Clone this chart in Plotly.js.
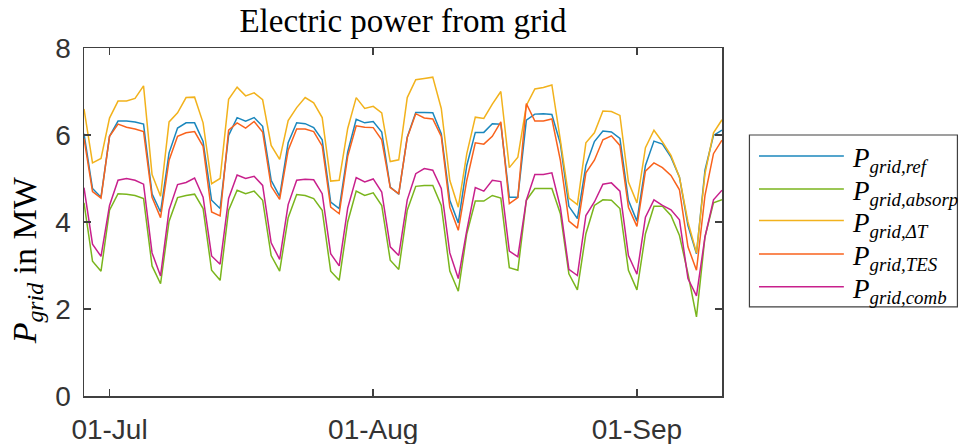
<!DOCTYPE html>
<html><head><meta charset="utf-8">
<script src="https://cdn.plot.ly/plotly-3.0.1.min.js"></script>
<style>body{margin:0;background:#fff}#chart{width:962px;height:444px}</style>
</head><body><div id="chart"></div>
<script>
// daily values, 28-Jun .. 11-Sep
const startDate = '2015-06-28';
const nDays = 76;
const tickVals = ['2015-07-01', '2015-08-01', '2015-09-01'];
const tickText = ['01-Jul', '01-Aug', '01-Sep'];

const pRef = [6.03,4.77,4.57,5.97,6.32,6.32,6.30,6.25,4.65,4.23,5.59,6.16,6.28,6.28,5.85,4.50,4.31,5.99,6.40,6.32,6.40,6.20,4.96,4.59,5.82,6.28,6.26,6.17,5.89,4.46,4.31,5.61,6.36,6.28,6.31,6.07,4.80,4.64,5.95,6.52,6.52,6.51,6.03,4.50,3.98,5.30,6.06,6.06,6.26,6.25,4.57,4.57,6.34,6.48,6.49,6.47,5.80,4.36,4.08,5.30,5.85,6.09,6.07,5.92,4.50,4.02,5.30,5.86,5.79,5.49,5.03,3.92,3.27,5.19,5.99,6.11];
const pAbsorp = [4.44,3.10,2.87,4.27,4.65,4.64,4.61,4.54,2.99,2.58,4.02,4.56,4.61,4.64,4.31,2.89,2.66,4.27,4.73,4.65,4.71,4.50,3.23,2.87,4.10,4.63,4.61,4.54,4.27,2.87,2.66,4.00,4.71,4.61,4.67,4.38,3.12,2.91,4.27,4.82,4.84,4.84,4.38,2.87,2.41,3.73,4.48,4.48,4.61,4.55,2.95,2.89,4.50,4.77,4.77,4.77,4.19,2.81,2.44,3.73,4.38,4.51,4.50,4.31,2.89,2.44,3.73,4.36,4.36,4.15,3.69,2.81,1.82,3.66,4.44,4.51];
const pDeltaT = [6.60,5.36,5.46,6.39,6.78,6.78,6.84,7.13,5.09,4.59,6.30,6.51,6.86,6.87,6.28,4.88,5.00,6.82,7.10,6.90,6.97,6.81,5.76,5.44,6.33,6.63,6.86,6.74,6.40,4.94,4.96,6.15,6.86,6.61,6.66,6.51,5.39,5.43,6.86,7.27,7.30,7.33,6.61,4.96,4.34,5.57,6.41,6.38,6.71,7.00,5.25,5.49,6.68,7.06,7.09,7.15,5.88,4.55,4.40,5.82,6.05,6.55,6.54,6.45,4.92,4.44,5.71,6.11,5.84,5.53,5.03,4.00,3.29,5.11,6.05,6.35];
const pTES = [5.92,4.70,4.55,5.97,6.25,6.18,6.14,6.08,4.57,4.10,5.42,5.97,6.05,6.08,5.74,4.23,4.14,6.11,6.28,6.16,6.31,6.07,4.82,4.52,5.65,6.14,6.14,6.08,5.75,4.34,4.19,5.51,6.21,6.18,6.17,5.89,4.79,4.65,5.94,6.49,6.39,6.37,5.97,4.34,3.81,4.96,5.82,5.79,5.97,6.30,4.42,4.56,6.72,6.32,6.32,6.37,5.42,4.02,3.86,5.13,5.42,5.89,5.98,5.76,4.34,3.90,5.17,5.36,5.25,5.07,4.74,3.43,2.89,4.61,5.57,5.88];
const pComb = [4.79,3.49,3.21,4.38,4.96,5.00,4.96,4.87,3.29,2.76,4.28,4.86,4.91,5.01,4.57,3.22,3.03,4.54,5.08,5.00,5.05,4.84,3.52,3.14,4.40,4.96,4.98,4.97,4.65,3.27,2.99,4.32,5.02,4.92,4.99,4.69,3.43,3.23,4.51,5.11,5.23,5.19,4.77,3.29,2.70,3.81,4.79,4.71,4.96,4.93,3.33,3.20,4.50,5.09,5.09,5.13,4.34,2.91,2.77,4.15,4.46,4.87,4.90,4.71,3.23,2.80,4.11,4.51,4.38,4.28,4.05,2.70,2.30,3.66,4.51,4.73];

const seriesNames = ['grid,ref', 'grid,absorp', 'grid,ΔT', 'grid,TES', 'grid,comb'];
const seriesData = [pRef, pAbsorp, pDeltaT, pTES, pComb];
const seriesColors = ['#1b87bd', '#7ab51d', '#f2b21c', '#f9621c', '#c8208c'];

function dayList(start, n) {
  const out = [];
  const d0 = new Date(start + 'T00:00:00Z');
  for (let i = 0; i < n; i++) {
    const d = new Date(d0.getTime() + i * 86400000);
    out.push(d.toISOString().slice(0, 10));
  }
  return out;
}
const dates = dayList(startDate, nDays);

const traces = seriesData.map((ys, k) => ({
  type: 'scatter', mode: 'lines', x: dates, y: ys,
  name: 'P_' + seriesNames[k],
  line: {color: seriesColors[k], width: 1.5},
  showlegend: false, hoverinfo: 'skip'
}));

const serif = 'Liberation Serif, Times New Roman, serif';
const sans = 'Liberation Sans, Arial, sans-serif';
const axisCol = '#404040';

// custom legend (long line samples as in the original)
const legY = [0.690, 0.595, 0.504, 0.408, 0.314];
const shapes = [{
  type: 'rect', xref: 'paper', yref: 'paper',
  x0: 1.043, x1: 1.369, y0: 0.256, y1: 0.750,
  line: {color: '#404040', width: 1.2}, fillcolor: '#fff'
}];
const annotations = [];
seriesNames.forEach((nm, k) => {
  shapes.push({type: 'line', xref: 'paper', yref: 'paper',
    x0: 1.058, x1: 1.191, y0: legY[k], y1: legY[k],
    line: {color: seriesColors[k], width: 1.5}});
  annotations.push({xref: 'paper', yref: 'paper', x: 1.200, y: legY[k] - 0.012,
    xanchor: 'left', yanchor: 'middle', showarrow: false,
    text: '<i>P</i><sub><i>' + nm + '</i></sub>',
    font: {family: serif, size: 27, color: '#000'}});
});

const layout = {
  width: 962, height: 444,
  margin: {l: 84, r: 240, t: 48, b: 48},
  paper_bgcolor: '#fff', plot_bgcolor: '#fff',
  title: {text: 'Electric power from grid', font: {family: serif, size: 33, color: '#000'},
    x: 0.5, xref: 'paper', y: 0.955, yref: 'container', yanchor: 'middle'},
  xaxis: {
    type: 'date', range: [dates[0], dates[nDays - 1]],
    tickvals: tickVals, ticktext: tickText,
    ticks: 'inside', ticklen: 7, tickwidth: 1.5, tickcolor: axisCol,
    showline: true, linecolor: axisCol, linewidth: 1.5, mirror: 'ticks',
    showgrid: false, zeroline: false,
    tickfont: {family: sans, size: 28, color: '#333'}, ticklabelstandoff: 8
  },
  yaxis: {
    range: [0, 8], tickvals: [0, 2, 4, 6, 8],
    ticks: 'inside', ticklen: 7, tickwidth: 1.5, tickcolor: axisCol,
    showline: true, linecolor: axisCol, linewidth: 1.5, mirror: 'ticks',
    showgrid: false, zeroline: false,
    tickfont: {family: sans, size: 28, color: '#333'}, ticklabelstandoff: 6,
    title: {text: '<i>P</i><sub><i>grid</i></sub> in MW' + '&nbsp;'.repeat(9),
      font: {family: serif, size: 34, color: '#000'}, standoff: 8}
  },
  shapes: shapes,
  annotations: annotations,
  showlegend: false
};

Plotly.newPlot('chart', traces, layout, {staticPlot: true, displayModeBar: false});
</script></body></html>
